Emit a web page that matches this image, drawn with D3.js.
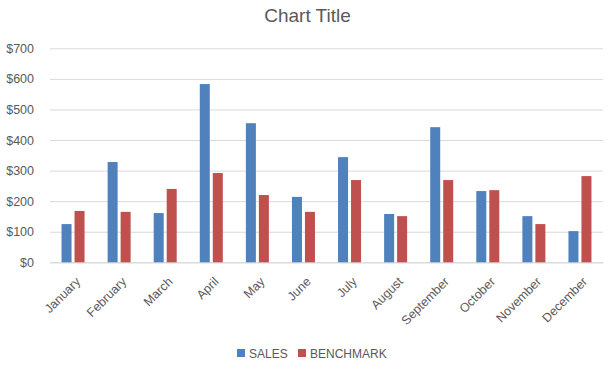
<!DOCTYPE html>
<html><head><meta charset="utf-8">
<script src="https://cdn.jsdelivr.net/npm/d3@7"></script>
<style>body{margin:0;background:#fff}svg{display:block}text{font-family:"Liberation Sans",Arial,sans-serif;fill:#595959}</style>
</head><body><svg id="c" width="615" height="369"></svg>
<script>
const months = ["January","February","March","April","May","June","July","August","September","October","November","December"];
const sales = [125, 328, 161, 583, 455, 214, 344, 158, 442, 233, 151, 102];
const benchmark = [168, 165, 240, 292, 220, 165, 269, 151, 269, 236, 125, 282];
const yTicks = [0, 100, 200, 300, 400, 500, 600, 700];
const seriesNames = ["SALES", "BENCHMARK"];
const colors = ["#4F81BD", "#C0504D"];

const svg = d3.select("#c");
const x = d3.scaleBand().domain(months).range([50, 603]);
const y = d3.scaleLinear().domain([0, 700]).range([262.3, 48.3]);

svg.append("text").attr("x", 307.5).attr("y", 22).attr("text-anchor", "middle")
  .style("font-size", "19px").text("Chart Title");

const gy = svg.append("g").attr("transform", "translate(50,0)")
  .call(d3.axisLeft(y).tickValues(yTicks).tickSize(-553).tickFormat(d => "$" + d));
gy.select(".domain").remove();
gy.selectAll(".tick line").attr("stroke", "#D9D9D9").attr("stroke-width", 1);
gy.selectAll(".tick text").attr("x", -16).style("font-size", "12.5px").style("fill", "#595959");

const gx = svg.append("g").attr("transform", "translate(0,262.3)")
  .call(d3.axisBottom(x).tickSize(0));
gx.select(".domain").attr("stroke", "#D9D9D9");
gx.selectAll(".tick text").attr("text-anchor", "end").attr("dy", "0.35em")
  .attr("transform", "translate(5,17) rotate(-45)").attr("y", 0).attr("x", 0)
  .style("font-size", "12.5px").style("fill", "#595959");

const bw = 10;
[sales, benchmark].forEach((arr, si) => {
  svg.append("g").selectAll("rect").data(arr).join("rect")
    .attr("x", (d, i) => x(months[i]) + x.bandwidth() / 2 + (si === 0 ? -11.5 : 1.5))
    .attr("width", bw)
    .attr("y", d => y(d))
    .attr("height", d => y(0) - y(d))
    .attr("fill", colors[si]);
});

const legendX = [237, 298];
seriesNames.forEach((n, i) => {
  svg.append("rect").attr("x", legendX[i]).attr("y", 349).attr("width", 8).attr("height", 8).attr("fill", colors[i]);
  svg.append("text").attr("x", legendX[i] + 12).attr("y", 357.5).style("font-size", "12px").text(n);
});
</script></body></html>
